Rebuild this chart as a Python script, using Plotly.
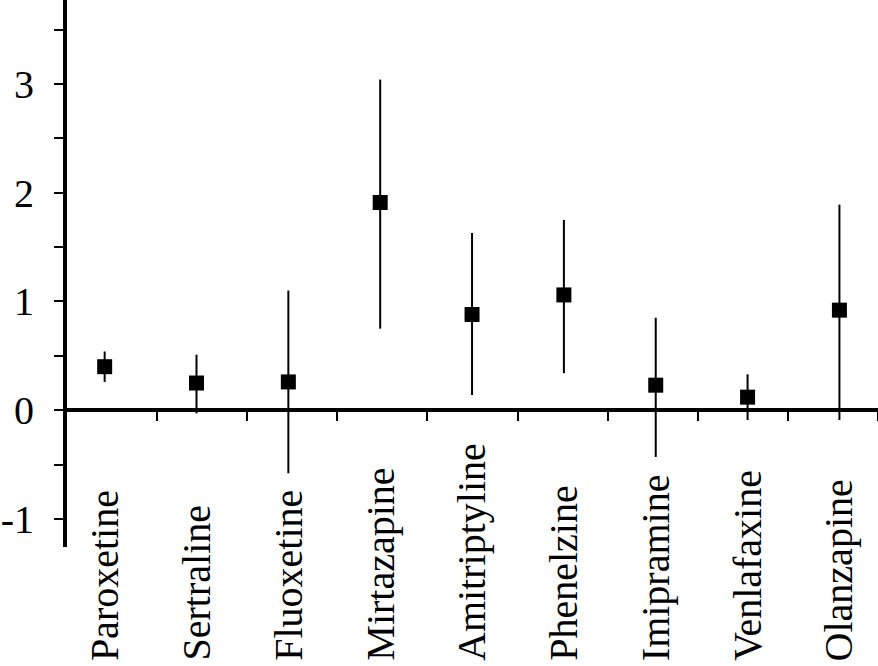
import plotly.graph_objects as go

drugs = ["Paroxetine", "Sertraline", "Fluoxetine", "Mirtazapine", "Amitriptyline",
         "Phenelzine", "Imipramine", "Venlafaxine", "Olanzapine"]
means = [0.40, 0.25, 0.26, 1.91, 0.88, 1.06, 0.23, 0.12, 0.92]
upper = [0.54, 0.51, 1.10, 3.04, 1.63, 1.75, 0.85, 0.33, 1.89]
lower = [0.26, -0.03, -0.58, 0.75, 0.14, 0.34, -0.43, -0.09, -0.09]

ytick_vals = [-1, -0.5, 0, 0.5, 1, 1.5, 2, 2.5, 3, 3.5]
ytick_text = ["-1", "", "0", "", "1", "", "2", "", "3", ""]

Y_MIN, Y_MAX = -1.258, 3.772
FONT = "Liberation Serif"

err_plus = [u - m for u, m in zip(upper, means)]
err_minus = [m - l for m, l in zip(means, lower)]

fig = go.Figure()
fig.add_trace(go.Scatter(
    x=drugs, y=means, mode="markers",
    marker=dict(symbol="square", size=15, color="black", line=dict(width=0)),
    error_y=dict(type="data", symmetric=False, array=err_plus, arrayminus=err_minus,
                 color="black", thickness=2, width=0),
    showlegend=False, hoverinfo="skip",
))
# empty trace so the zero axis (x2) is drawn
fig.add_trace(go.Scatter(x=[], y=[], xaxis="x2", showlegend=False, hoverinfo="skip"))

zero_pos = (0 - Y_MIN) / (Y_MAX - Y_MIN)

fig.update_layout(
    width=878, height=666, autosize=False,
    margin=dict(l=67, r=0, t=0, b=119, pad=0, autoexpand=False),
    paper_bgcolor="white", plot_bgcolor="white",
    font=dict(family=FONT, size=40, color="black"),
    xaxis=dict(
        type="category", range=[-0.41, 8.42], showline=False, showgrid=False,
        zeroline=False, showticklabels=False, ticks="", automargin=False,
    ),
    xaxis2=dict(
        overlaying="x", anchor="free", position=zero_pos, range=[0, 9],
        showline=True, linewidth=4, linecolor="black", showgrid=False,
        zeroline=False, ticks="outside", tickvals=[1, 2, 3, 4, 5, 6, 7, 8, 9],
        ticklen=9, tickwidth=2, tickcolor="black", showticklabels=False,
        automargin=False,
    ),
    yaxis=dict(
        range=[Y_MIN, Y_MAX], showline=True, linewidth=4, linecolor="black",
        showgrid=False, zeroline=False, ticks="outside", tickvals=ytick_vals,
        ticktext=ytick_text, ticklen=9, tickwidth=2, tickcolor="black",
        tickfont=dict(family=FONT, size=40, color="black"), ticklabelstandoff=12,
        automargin=False,
    ),
)

for d in drugs:
    fig.add_annotation(
        x=d, y=-0.212, xref="x", yref="paper", text=d, textangle=-90,
        showarrow=False, xanchor="center", yanchor="bottom",
        font=dict(family=FONT, size=40, color="black"),
    )

fig.write_html("out.html", config={"displayModeBar": False},
               post_script="document.body.style.margin='0';")
